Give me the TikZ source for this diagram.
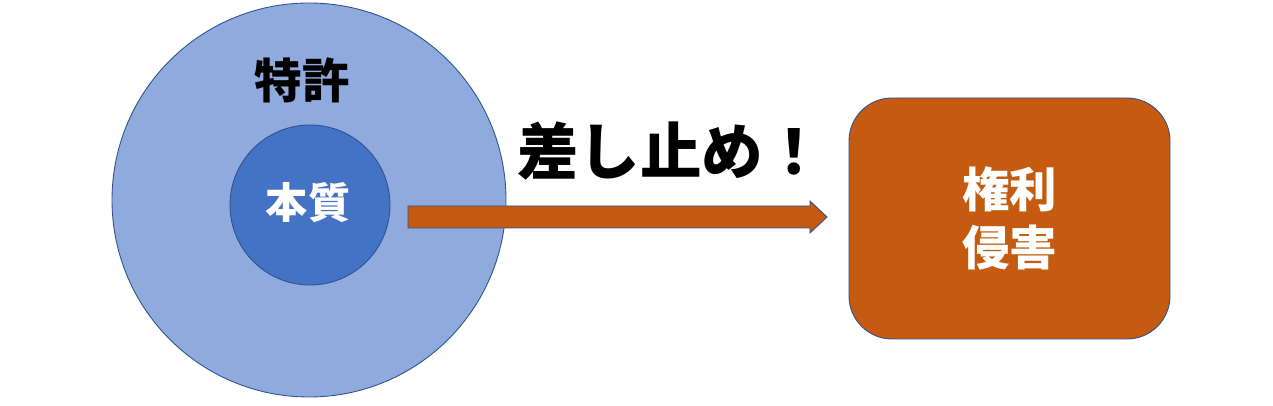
\documentclass[tikz,border=0pt]{standalone}
\usepackage{fontspec}
\setmainfont{Noto Sans CJK JP}
\usepackage{tikz}

\definecolor{lightblue}{HTML}{8FAADC}
\definecolor{midblue}{HTML}{4472C4}
\definecolor{edgeblue}{HTML}{2F528F}
\definecolor{rust}{HTML}{C55A11}

\begin{document}
\begin{tikzpicture}[outer_node/.style={circle,draw=edgeblue,fill=lightblue,line width=0.5pt,inner sep=0pt,minimum size=7.88cm},
    inner_node/.style={circle,draw=edgeblue,fill=midblue,line width=0.5pt,inner sep=0pt,minimum size=3.2cm},
    box_node/.style={rectangle,rounded corners=0.86cm,draw=edgeblue,fill=rust,line width=0.5pt,minimum width=6.42cm,minimum height=4.82cm,align=center,text=white,font=\bfseries\fontsize{27pt}{33pt}\selectfont},
    label_node/.style={inner sep=0pt,font=\bfseries\fontsize{27pt}{33pt}\selectfont}]

    \useasboundingbox (0,0) rectangle (25.46,8.12);

	\node[outer_node] (patent)   at (6.18,4.12) {};
    \node[inner_node] (core)   at (6.2,4.02) {};
    \node[label_node] (patentlabel)   at (6.04,6.52) {特許};
    \node[label_node, text=white, font=\bfseries\fontsize{24pt}{28pt}\selectfont] (corelabel)   at (6.16,4.06) {本質};
    \node[box_node] (infringe)   at (20.19,3.75) {権利\\侵害};
    \node[label_node, font=\bfseries\fontsize{35pt}{40pt}\selectfont] (stop)   at (13.42,5.1) {差し止め！};

    \coordinate (tail) at (8.16,3.78);
    \coordinate (tip) at (16.54,3.78);

    \draw[draw=edgeblue,fill=rust,line width=0.5pt] ([yshift=0.22cm]tail) -- (16.2,4.0) -- (16.2,4.1) -- (tip) -- (16.2,3.46) -- (16.2,3.56) -- ([yshift=-0.22cm]tail) -- cycle;

\end{tikzpicture}
\end{document}
